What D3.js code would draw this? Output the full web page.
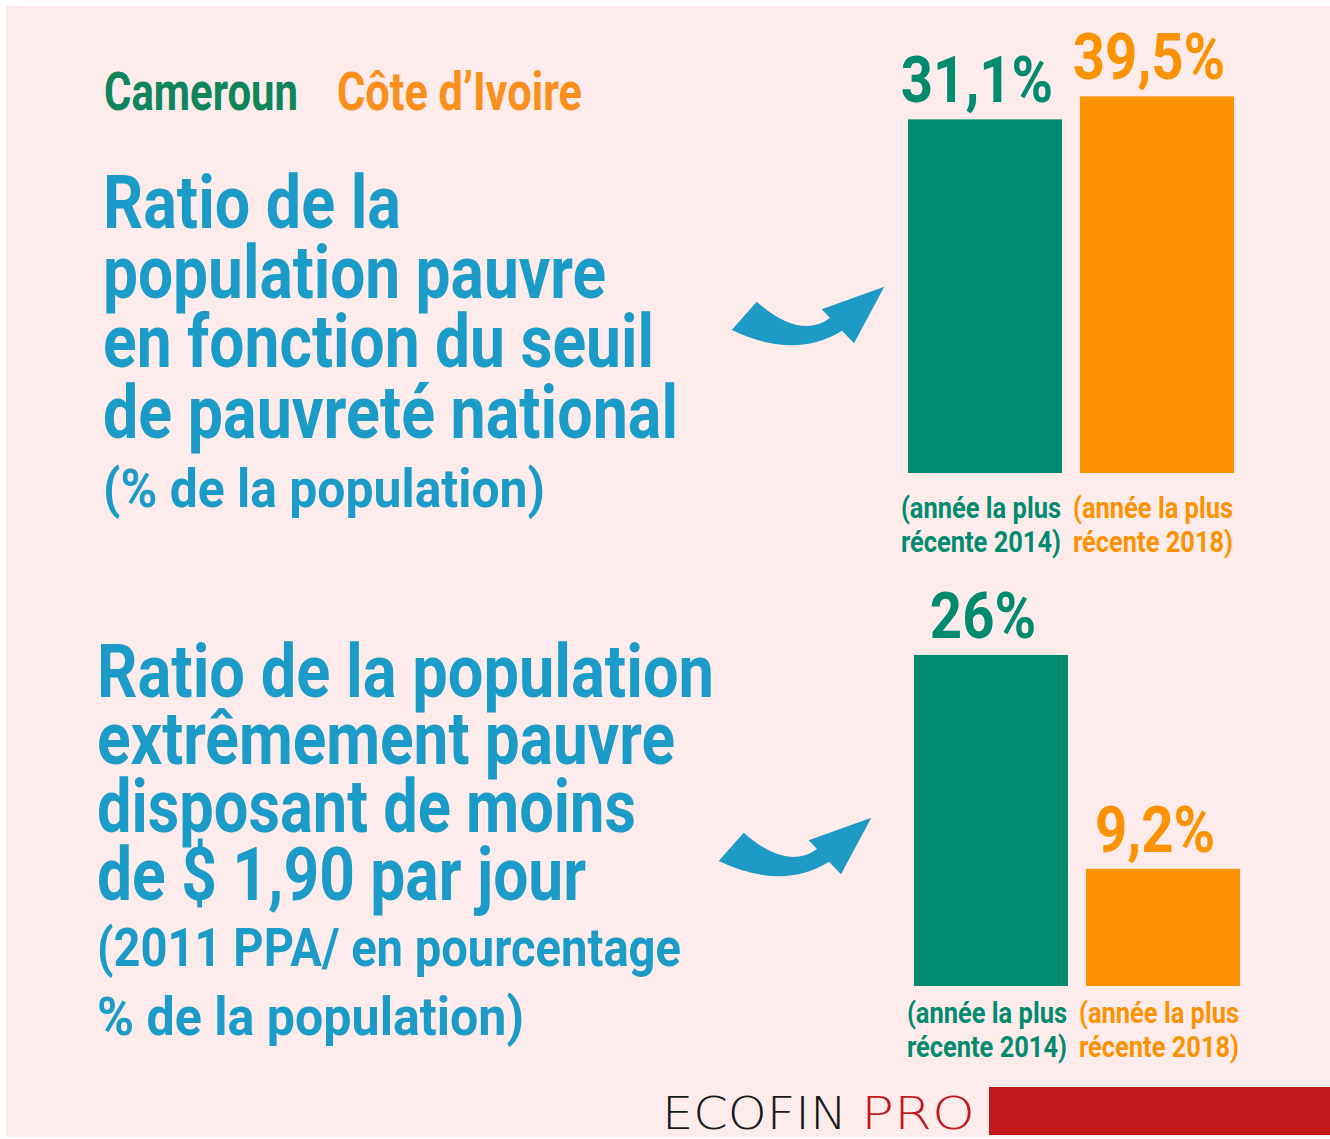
<!DOCTYPE html>
<html>
<head>
<meta charset="utf-8">
<script src="https://cdn.jsdelivr.net/npm/d3@7"></script>
<style>
  html, body { margin: 0; padding: 0; background: #ffffff; }
  #chart text { font-family: "Liberation Sans Narrow", "Roboto", "DejaVu Sans Condensed", sans-serif; font-weight: bold; }
</style>
</head>
<body>
<div id="chart"></div>
<script>
const countries = ["Cameroun", "Côte d’Ivoire"];
const povertyNational = [31.1, 39.5];     // % population, seuil national
const povertyExtreme = [26, 9.2];         // % population, $1,90 / jour
const surveyYears = [2014, 2018];

const titleLines1 = ["Ratio de la", "population pauvre", "en fonction du seuil", "de pauvreté national"];
const subLines1 = ["(% de la population)"];
const titleLines2 = ["Ratio de la population", "extrêmement pauvre", "disposant de moins", "de $ 1,90 par jour"];
const subLines2 = ["(2011 PPA/ en pourcentage", "% de la population)"];

// --- layout ---
const W = 1330, H = 1139;
const colorPalette = d3.scaleOrdinal().domain(countries).range(["#008a6e", "#fd9200"]);
const legendColors = d3.scaleOrdinal().domain(countries).range(["#0f855c", "#fb8f1c"]);
const blue = "#1b9bc7";

const svg = d3.select("#chart").append("svg")
    .attr("width", W)
    .attr("height", H);

svg.append("rect").attr("width", W).attr("height", H).attr("fill", "#ffffff");
svg.append("rect").attr("x", 6).attr("y", 6).attr("width", W - 6).attr("height", H - 8).attr("fill", "#fdeceb");

// squeeze a text horizontally so it looks like the condensed face of the original
function condense(sel, factor) {
    sel.each(function() {
        const w = this.getComputedTextLength();
        d3.select(this).attr("textLength", w * factor).attr("lengthAdjust", "spacingAndGlyphs");
    });
}

// legend
const legendX = [104, 337], legendW = [194, 245];
svg.selectAll(".legend")
   .data(countries)
   .enter().append("text")
   .attr("class", "legend")
   .attr("x", (d, i) => legendX[i])
   .attr("y", 110)
   .attr("textLength", (d, i) => legendW[i])
   .attr("lengthAdjust", "spacingAndGlyphs")
   .style("font-size", "53px")
   .style("fill", d => legendColors(d))
   .text(d => d);

// left-hand titles
function drawTitle(lines, subs, x, baselines, widths, subBaselines, subWidths) {
    const g = svg.append("g");
    g.selectAll(".title-line")
     .data(lines)
     .enter().append("text")
     .attr("class", "title-line")
     .attr("x", x)
     .attr("y", (d, i) => baselines[i])
     .attr("textLength", (d, i) => widths[i])
     .attr("lengthAdjust", "spacingAndGlyphs")
     .style("font-size", "74px")
     .style("fill", blue)
     .text(d => d);
    g.selectAll(".sub-line")
     .data(subs)
     .enter().append("text")
     .attr("class", "sub-line")
     .attr("x", x)
     .attr("y", (d, i) => subBaselines[i])
     .attr("textLength", (d, i) => subWidths[i])
     .attr("lengthAdjust", "spacingAndGlyphs")
     .style("font-size", "53px")
     .style("fill", blue)
     .text(d => d);
}

drawTitle(titleLines1, subLines1, 103, [228, 298, 367, 438], [298, 503, 551, 575], [507], [442]);
drawTitle(titleLines2, subLines2, 97, [697, 764, 832, 900], [617, 578, 539, 489], [966, 1035], [584, 427]);

// curved arrows
const arrowPath = "M31.7,70 L56.7,41.7 Q100,80 130,58 L121.7,49.3 L184.3,26.7 L154,83.3 L142,70.7 Q95,100 31.7,70 Z";
[[700, 260], [687, 791]].forEach(t => {
    svg.append("path")
       .attr("d", arrowPath)
       .attr("transform", `translate(${t[0]},${t[1]})`)
       .attr("fill", "#1d9ac6");
});

// bar panels
function drawPanel(values, xRange, yScale, labelLines) {
    const xScale = d3.scaleBand().domain(countries).range(xRange).paddingInner(0.105).paddingOuter(0);
    const rows = countries.map((c, i) => ({ country: c, value: values[i], year: surveyYears[i] }));
    const base = yScale.range()[0];
    const g = svg.append("g");

    g.selectAll(".bar")
     .data(rows)
     .enter().append("rect")
     .attr("class", "bar")
     .attr("x", d => xScale(d.country))
     .attr("y", d => yScale(d.value))
     .attr("width", xScale.bandwidth())
     .attr("height", d => base - yScale(d.value))
     .attr("fill", d => colorPalette(d.country));

    g.selectAll(".bar-label")
     .data(rows)
     .enter().append("text")
     .attr("class", "bar-label")
     .attr("x", d => xScale(d.country) + xScale.bandwidth() / 2 - 8)
     .attr("y", d => yScale(d.value) - 17)
     .attr("text-anchor", "middle")
     .style("font-size", "64px")
     .style("fill", d => colorPalette(d.country))
     .text(d => String(d.value).replace(".", ",") + "%")
     .call(condense, 0.88);

    rows.forEach(d => {
        const cx = xScale(d.country) + xScale.bandwidth() / 2 - 4;
        ["(année la plus", `récente ${d.year})`].forEach((line, j) => {
            g.append("text")
             .attr("x", cx)
             .attr("y", labelLines[j])
             .attr("text-anchor", "middle")
             .attr("textLength", 160)
             .attr("lengthAdjust", "spacingAndGlyphs")
             .style("font-size", "29px")
             .style("fill", colorPalette(d.country))
             .text(line);
        });
    });
}

// top panel is drawn on a truncated scale, as in the original graphic
const yNational = d3.scaleLinear().domain([-98, 40]).range([473, 95]);
const yExtreme = d3.scaleLinear().domain([0, 30]).range([986, 604]);
drawPanel(povertyNational, [908, 1234], yNational, [518, 552]);
drawPanel(povertyExtreme, [914, 1240], yExtreme, [1023, 1057]);

// footer logo
svg.append("text")
   .attr("x", 662)
   .attr("y", 1129)
   .attr("textLength", 185)
   .attr("lengthAdjust", "spacingAndGlyphs")
   .style("font-family", "'DejaVu Sans', sans-serif")
   .style("font-weight", "200")
   .style("text-transform", "uppercase")
   .style("font-size", "45px")
   .style("fill", "#1a1a1a")
   .text("ecofin");
svg.append("text")
   .attr("x", 861)
   .attr("y", 1129)
   .attr("textLength", 114)
   .attr("lengthAdjust", "spacingAndGlyphs")
   .style("font-family", "'DejaVu Sans', sans-serif")
   .style("font-weight", "200")
   .style("font-size", "45px")
   .style("fill", "#c0181b")
   .text("PRO");
svg.append("rect")
   .attr("x", 989).attr("y", 1087)
   .attr("width", W - 989).attr("height", 48)
   .attr("fill", "#bf191a");
</script>
</body>
</html>
